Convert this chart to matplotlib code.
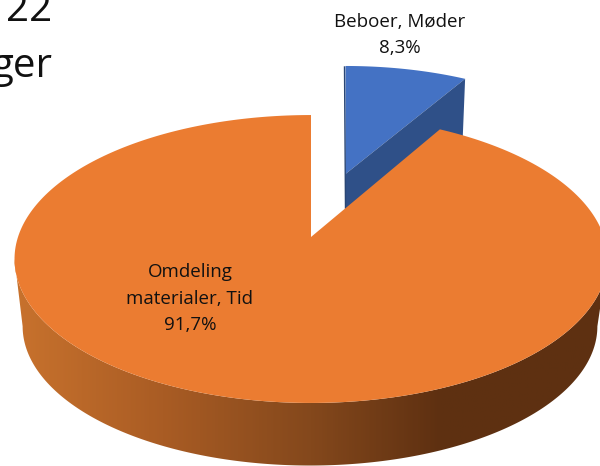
import numpy as np
import matplotlib
matplotlib.use("Agg")
import matplotlib.pyplot as plt
from matplotlib.colors import LinearSegmentedColormap
from matplotlib.patches import Polygon

categories = ["Beboer, Møder", "Omdeling\nmaterialer, Tid"]
shares = [8.3, 91.7]
percent_labels = ["8,3%", "91,7%"]

plt.rcParams["font.family"] = ["Open Sans", "DejaVu Sans"]

# ellipse seen in perspective, theta clockwise from the top
def rim(cx, cy, a, b, k, start, end):
    t = np.radians(np.linspace(start, end, 300))
    d = 1 + k * np.cos(t)
    return np.column_stack([cx + a * np.sin(t) / d, cy - b * np.cos(t) / d])

split = shares[0] / sum(shares) * 360

fig = plt.figure(figsize=(6, 4.66), dpi=100)
ax = fig.add_axes([0, 0, 1, 1])
ax.axis("off")

# exploded slice
blue = (345.5, 174, 268, 122.5, 0.134)
blue_low = (345.5, 238, 262, 120, 0.134)
ax.add_patch(Polygon(np.vstack([[blue[0], blue[1]], rim(*blue, 0, split)]), fc="#4472C4", ec="none", zorder=2))
wall = np.vstack([[blue[:2]], rim(*blue, split, split), rim(*blue_low, split, split), [blue_low[:2]]])
ax.add_patch(Polygon(wall, fc="#2F5088", ec="none", zorder=2))
ax.plot([blue[0] - 1, blue[0]], [67, 208], color="#2A4674", lw=1, zorder=2)

# big slice
top = (311, 237, 293, 140.6, 0.1528)
low = (310, 305, 284, 136, 0.1528)
edge = 98.8
side = np.vstack([rim(*top, edge, 360 - edge), rim(*low, 360 - edge, edge)])
side_patch = Polygon(side, fc="none", ec="none", zorder=3)
ax.add_patch(side_patch)
shade = LinearSegmentedColormap.from_list(
    "side", [(0, "#C8722D"), (0.25, "#A95C24"), (0.5, "#84481C"), (0.72, "#5E3011"), (1, "#5E3112")]
)
grad = ax.imshow(np.linspace(0, 1, 300)[None, :], extent=(14, 608, 466, 230), aspect="auto", cmap=shade, zorder=3)
grad.set_clip_path(side_patch)
ax.add_patch(Polygon(np.vstack([[top[0], top[1]], rim(*top, split, 360)]), fc="#EB7C31", ec="none", zorder=4))

ax.set_xlim(0, 600)
ax.set_ylim(466, 0)

label_size = 13.5
ax.text(399.5, 22, categories[0], ha="center", va="center", fontsize=label_size, color="#111111", zorder=5)
ax.text(399.5, 48, percent_labels[0], ha="center", va="center", fontsize=label_size, color="#111111", zorder=5)
ax.text(190, 272, "Omdeling", ha="center", va="center", fontsize=label_size, color="#111111", zorder=5)
ax.text(190, 299, "materialer, Tid", ha="center", va="center", fontsize=label_size, color="#111111", zorder=5)
ax.text(190, 325, percent_labels[1], ha="center", va="center", fontsize=label_size, color="#111111", zorder=5)

# cut off title text behind the chart
ax.text(52, 21, "22", ha="right", va="baseline", fontsize=29, color="#111111", clip_on=True)
ax.text(52, 77, "ger", ha="right", va="baseline", fontsize=29, color="#111111", clip_on=True)

fig.savefig("out.png", dpi=100)
